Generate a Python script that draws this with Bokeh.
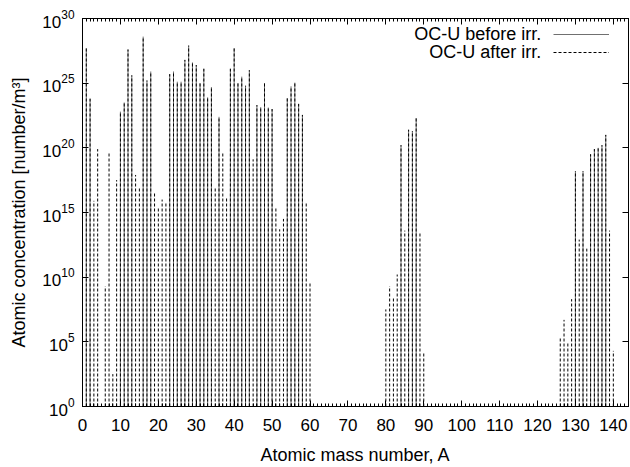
import numpy as np
from bokeh.plotting import figure
from bokeh.models import (FixedTicker, LinearAxis, LogAxis, Legend, LegendItem,
                          Label, Range1d, ColumnDataSource)
from bokeh.core.properties import value
from bokeh.embed import file_html
from bokeh.resources import INLINE

# ---------------- data ----------------
mass_after = [1, 2, 3, 4, 6, 7, 8, 9, 10, 11, 12, 13, 14, 15, 16, 17, 18, 19, 20,
              21, 22, 23, 24, 25, 26, 27, 28, 29, 30, 31, 32, 33, 34, 35, 36, 37,
              38, 39, 40, 41, 42, 43, 44, 45, 46, 47, 48, 49, 50, 51, 52, 53, 54,
              55, 56, 57, 58, 59, 60,
              80, 81, 82, 83, 84, 85, 86, 87, 88, 89, 90,
              126, 127, 128, 129, 130, 131, 132, 133, 134, 135, 136, 137, 138, 139, 140]
conc_after = [5.0e27, 6.3e23, 8.0e15, 8.0e19, 2.0e9, 4.0e19, 3.2e2, 3.2e17, 6.3e22, 3.2e23,
              4.0e27, 4.0e25, 8.0e17, 1.0e17, 4.0e28, 1.6e25, 8.0e25, 3.2e16, 2.5e15,
              1.0e16, 6.3e15, 5.0e25, 8.0e25, 1.3e25, 1.3e25, 6.3e26, 8.0e27, 4.0e26,
              2.5e26, 1.0e25, 1.3e26, 8.0e23, 5.0e24, 1.0e17, 2.5e22, 4.0e19, 1.3e16,
              1.3e26, 5.0e27, 1.0e25, 3.2e25, 6.3e24, 1.0e26, 1.3e19, 2.0e23, 1.4e23,
              1.0e25, 1.3e23, 1.0e23, 2.5e15, 5.0e13, 3.2e14, 7.0e23, 5.6e24, 1.1e25,
              2.5e23, 3.5e22, 6.3e15, 4.5e9,
              3.2e7, 2.0e9, 2.5e8, 1.6e10, 1.6e20, 4.0e13, 2.5e21, 2.0e21, 2.0e22,
              2.5e13, 1.6e4,
              2.5e5, 5.0e6, 1.0e5, 2.0e8, 1.6e18, 8.0e12, 1.6e18, 1.6e12, 3.2e19,
              8.0e19, 1.0e20, 1.6e20, 1.0e21, 4.0e13, 2.0e4]

mass_before = [1, 2, 10, 11, 12, 13, 16, 17, 18, 23, 24, 25, 26, 27, 28, 29, 30, 31,
               32, 33, 34, 36, 39, 40, 41, 42, 43, 44, 46, 47, 48, 49, 50, 54, 55,
               56, 57, 58, 84, 86, 87, 88, 130, 132, 134, 135, 136, 137, 138]
conc_before = [5.0e27, 6.3e23, 6.3e22, 3.2e23, 4.0e27, 4.0e25, 4.0e28, 1.6e25, 8.0e25,
               5.0e25, 8.0e25, 1.3e25, 1.3e25, 6.3e26, 8.0e27, 4.0e26, 2.5e26, 1.0e25,
               1.3e26, 8.0e23, 5.0e24, 2.5e22, 1.3e26, 5.0e27, 1.0e25, 3.2e25, 6.3e24,
               1.0e26, 2.0e23, 1.4e23, 1.0e25, 1.3e23, 1.0e23, 7.0e23, 5.6e24, 1.1e25,
               2.5e23, 3.5e22, 1.6e20, 2.5e21, 2.0e21, 2.0e22, 1.6e18, 1.6e18, 3.2e19,
               8.0e19, 1.0e20, 1.6e20, 1.0e21]

series_labels = ["OC-U before irr.", "OC-U after irr."]
x_major_ticks = list(range(0, 141, 10))
x_minor_ticks = list(range(0, 145))
y_major_ticks = [1e0, 1e5, 1e10, 1e15, 1e20, 1e25, 1e30]
x_title = "Atomic mass number, A"
y_title = "Atomic concentration [number/m\u00b3]"

FONT = "Liberation Sans"

src_before = ColumnDataSource(dict(A=mass_before, c=conc_before,
                                   base=np.ones(len(mass_before))))
src_after = ColumnDataSource(dict(A=mass_after, c=conc_after,
                                  base=np.ones(len(mass_after))))

p = figure(width=630, height=467, x_range=Range1d(0, 144), y_range=Range1d(1, 1e30),
           y_axis_type="log", output_backend="svg", toolbar_location=None,
           min_border_left=82, min_border_right=2, min_border_top=18, min_border_bottom=59)
p.xgrid.visible = False
p.ygrid.visible = False
p.outline_line_color = "black"
p.outline_line_width = 1
p.background_fill_color = "white"
p.border_fill_color = "white"

r_before = p.segment(x0="A", y0="base", x1="A", y1="c", source=src_before,
                     line_color="#707070", line_width=1)
r_after = p.segment(x0="A", y0="base", x1="A", y1="c", source=src_after,
                    line_color="#000000", line_width=1, line_dash="3 2")


def style_axis(ax, labels=True):
    ax.axis_line_color = "black"
    ax.major_tick_line_color = "black"
    ax.minor_tick_line_color = "black"
    ax.major_tick_in = 6
    ax.major_tick_out = 0
    ax.minor_tick_in = 3
    ax.minor_tick_out = 0
    if labels:
        ax.major_label_text_font = FONT
        ax.major_label_text_font_size = "17px"
        ax.major_label_text_color = "black"
        ax.axis_label_text_font = FONT
        ax.axis_label_text_font_size = "18px"
        ax.axis_label_text_font_style = "normal"
        ax.axis_label_text_color = "black"
    else:
        ax.major_label_text_font_size = "1px"
        ax.major_label_text_color = None
        ax.major_label_standoff = 0


xa = p.xaxis[0]
xa.ticker = FixedTicker(ticks=x_major_ticks, minor_ticks=x_minor_ticks)
style_axis(xa)
xa.axis_label = x_title
xa.major_label_standoff = 12
xa.axis_label_standoff = 11

ya = p.yaxis[0]
ya.ticker = FixedTicker(ticks=y_major_ticks, minor_ticks=[])
style_axis(ya)
ya.axis_label = y_title
ya.major_label_standoff = 8
ya.axis_label_standoff = 10

top = LinearAxis(ticker=FixedTicker(ticks=x_major_ticks, minor_ticks=x_minor_ticks))
style_axis(top, labels=False)
p.add_layout(top, "above")

right = LogAxis(ticker=FixedTicker(ticks=y_major_ticks, minor_ticks=[]))
style_axis(right, labels=False)
p.add_layout(right, "right")

legend = Legend(items=[LegendItem(label=value(" "), renderers=[r_before]),
                       LegendItem(label=value(" "), renderers=[r_after])],
                location="top_right", glyph_width=56, glyph_height=18,
                label_width=12, label_standoff=0, spacing=0, padding=0, margin=7,
                label_text_font=FONT, label_text_font_size="12px",
                border_line_color=None, background_fill_alpha=0)
p.add_layout(legend)

for i, txt in enumerate(series_labels):
    p.add_layout(Label(x=121, y=10 ** (28.77 - 1.385 * i), text=txt,
                       text_align="right", text_baseline="middle",
                       text_font=FONT, text_font_size="18px", text_color="black"))

open("out.html", "w").write(file_html(p, INLINE))
